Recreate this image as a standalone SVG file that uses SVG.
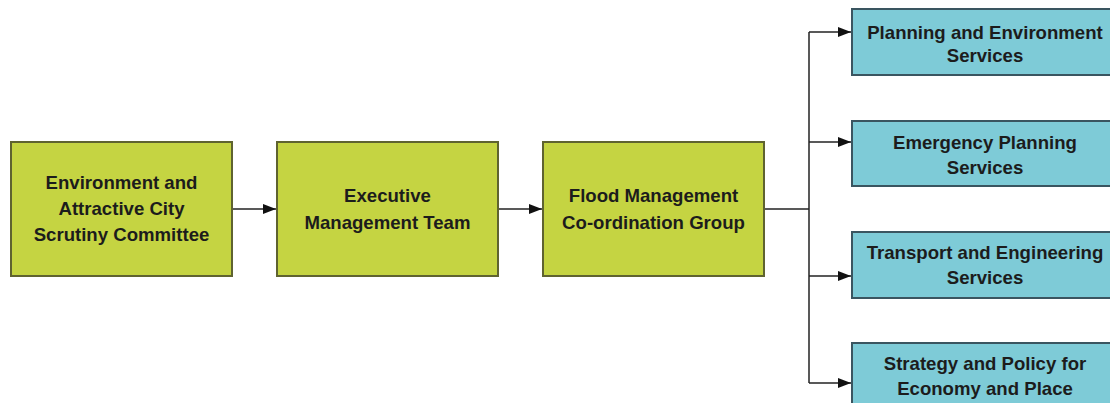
<svg xmlns="http://www.w3.org/2000/svg" width="1110" height="403" viewBox="0 0 1110 403">
<style>
.g{fill:#c5d442;stroke:#5f6330;stroke-width:2}
.b{fill:#7ecbd7;stroke:#3a5560;stroke-width:2}
.t{font-family:"Liberation Sans",Arial,sans-serif;font-weight:bold;font-size:18.6px;fill:#1c1c1c;text-anchor:middle}
.c{fill:none;stroke:#222;stroke-width:1.5}
</style>
<defs>
<marker id="ah" markerWidth="13" markerHeight="10" refX="13" refY="5" orient="auto" markerUnits="userSpaceOnUse">
<path d="M0,0 L13,5 L0,10 Z" fill="#111"/>
</marker>
</defs>
<rect width="1110" height="403" fill="#fff"/>
<g id="connectors">
<line class="c" x1="232" y1="209" x2="276" y2="209" marker-end="url(#ah)"/>
<line class="c" x1="498" y1="209" x2="542" y2="209" marker-end="url(#ah)"/>
<polyline class="c" points="764,209 809,209"/>
<line class="c" x1="809" y1="32" x2="809" y2="383"/>
<line class="c" x1="809" y1="32" x2="851" y2="32" marker-end="url(#ah)"/>
<line class="c" x1="809" y1="142" x2="851" y2="142" marker-end="url(#ah)"/>
<line class="c" x1="809" y1="276" x2="851" y2="276" marker-end="url(#ah)"/>
<line class="c" x1="809" y1="383" x2="851" y2="383" marker-end="url(#ah)"/>
</g>
<g id="n1">
<rect class="g" x="11" y="142" width="221" height="134"/>
<text class="t" x="121.5" y="189">Environment and</text>
<text class="t" x="121.5" y="215">Attractive City</text>
<text class="t" x="121.5" y="241">Scrutiny Committee</text>
</g>
<g id="n2">
<rect class="g" x="277" y="142" width="221" height="134"/>
<text class="t" x="387.5" y="202">Executive</text>
<text class="t" x="387.5" y="229">Management Team</text>
</g>
<g id="n3">
<rect class="g" x="543" y="142" width="221" height="134"/>
<text class="t" x="653.5" y="202">Flood Management</text>
<text class="t" x="653.5" y="229">Co-ordination Group</text>
</g>
<g id="s1">
<rect class="b" x="852" y="9" width="266" height="66"/>
<text class="t" x="985" y="39">Planning and Environment</text>
<text class="t" x="985" y="62">Services</text>
</g>
<g id="s2">
<rect class="b" x="852" y="121" width="266" height="65"/>
<text class="t" x="985" y="149">Emergency Planning</text>
<text class="t" x="985" y="174">Services</text>
</g>
<g id="s3">
<rect class="b" x="852" y="232" width="266" height="66"/>
<text class="t" x="985" y="259">Transport and Engineering</text>
<text class="t" x="985" y="284">Services</text>
</g>
<g id="s4">
<rect class="b" x="852" y="343" width="266" height="66"/>
<text class="t" x="985" y="370">Strategy and Policy for</text>
<text class="t" x="985" y="395">Economy and Place</text>
</g>
</svg>
